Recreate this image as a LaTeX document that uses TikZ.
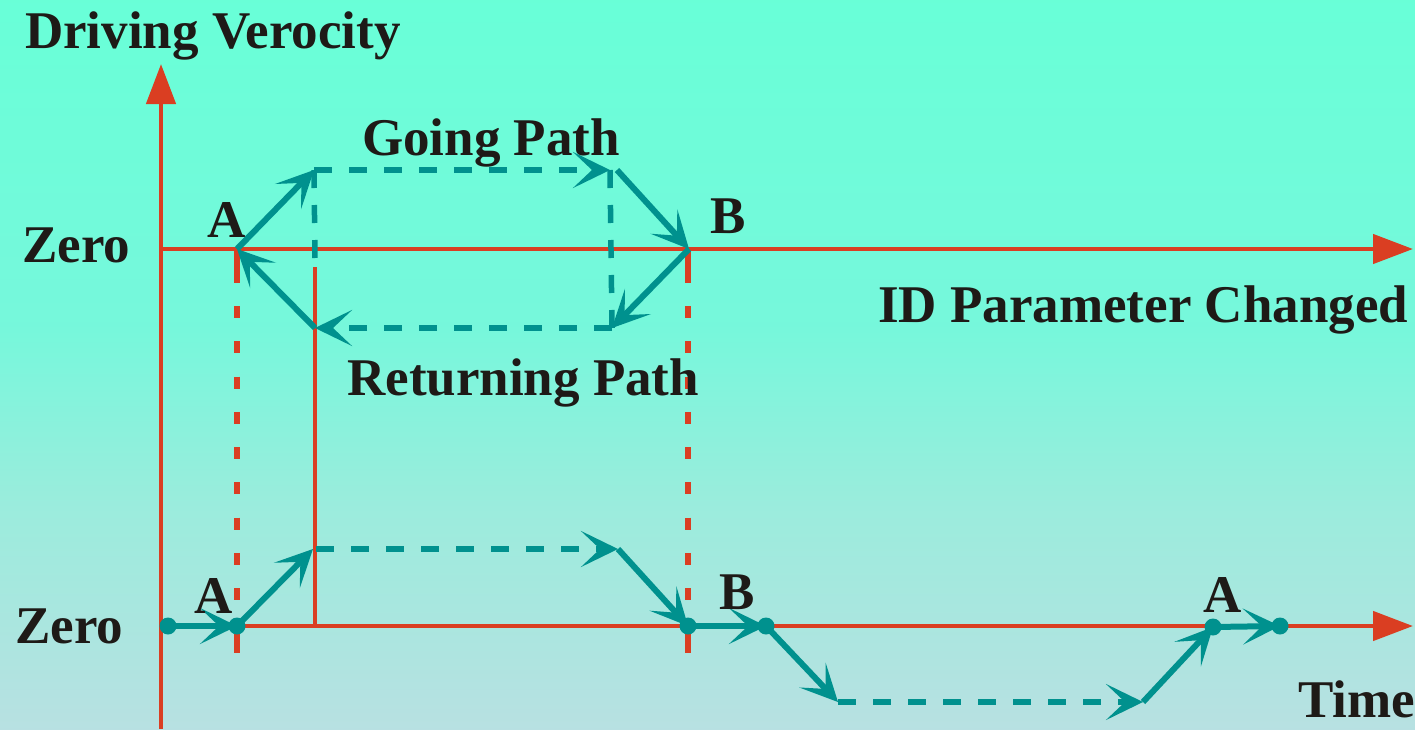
\documentclass[tikz,border=0pt]{standalone}
\usepackage{fontspec}
\setmainfont{Liberation Serif}
\usetikzlibrary{arrows.meta}
\definecolor{axred}{RGB}{218,62,34}
\definecolor{pteal}{RGB}{0,145,142}
\definecolor{txt}{RGB}{30,26,23}
\pgfdeclareverticalshading{bgshade}{100bp}{rgb(0bp)=(0.72,0.88,0.885); rgb(25bp)=(0.72,0.88,0.885); rgb(40bp)=(0.61,0.925,0.865); rgb(52.5bp)=(0.465,0.97,0.86); rgb(75bp)=(0.41,1,0.845); rgb(100bp)=(0.41,1,0.845)}
\begin{document}
\begin{tikzpicture}[x=1pt,y=-1pt,
  axis/.style={draw=axred,line width=4.5pt,-{Triangle[length=40pt,width=29pt]}},
  redline/.style={draw=axred,line width=4.5pt},
  reddash/.style={draw=axred,line width=5.5pt,dash pattern=on 34pt off 23pt on 12pt off 23.25pt on 12pt off 23.25pt on 12pt off 23.25pt on 12pt off 23.25pt on 12pt off 23.25pt on 12pt off 23.25pt on 12pt off 23.25pt on 12pt off 23.25pt on 12pt off 19pt on 40pt off 10pt},
  tarrow/.style={draw=pteal,line width=6pt,-{Stealth[length=37pt,width=36pt,inset=19pt]}},
  tdash/.style={draw=pteal,line width=5.5pt,dash pattern=on 18pt off 17pt},
  tdasharrow/.style={tdash,-{Stealth[length=37pt,width=36pt,inset=19pt]}},
  dot/.style={circle,fill=pteal,inner sep=0pt,minimum size=17pt},
  lab/.style={anchor=base west,inner sep=0pt,text=txt,font=\fontsize{53}{60}\selectfont\bfseries}]
\useasboundingbox (0,0) rectangle (1415,729);
\shade[shading=bgshade] (0,0) rectangle (1415,729);
% coordinates
\coordinate (yb) at (161,729);
\coordinate (yt) at (161,64);
\coordinate (u0) at (161,249);
\coordinate (ue) at (1413,249);
\coordinate (l0) at (161,626);
\coordinate (le) at (1413,626);
\coordinate (uA) at (237,249);
\coordinate (uB) at (689,249);
\coordinate (g1) at (314,170);
\coordinate (g2) at (610,170);
\coordinate (g2b) at (617,170);
\coordinate (r1) at (612,328);
\coordinate (r2) at (315,328);
\coordinate (vA1) at (237,249);
\coordinate (vA2) at (237,653);
\coordinate (vB1) at (688,249);
\coordinate (vB2) at (688,653);
\coordinate (m1) at (315,267);
\coordinate (m2) at (315,626);
\coordinate (md) at (315,261);
\coordinate (s0) at (168,626);
\coordinate (lA) at (237,626);
\coordinate (lg1) at (313,549);
\coordinate (lg1b) at (316,549);
\coordinate (lg2) at (618,549);
\coordinate (lB) at (688,626);
\coordinate (lB2) at (766,626);
\coordinate (ld1) at (838,702);
\coordinate (ld2) at (1143,702);
\coordinate (lA2) at (1213,627);
\coordinate (lE) at (1280,626);
% axes
\draw[axis] (yb) -- (yt);
\draw[axis] (u0) -- (ue);
\draw[axis] (l0) -- (le);
\draw[redline] (m1) -- (m2);
\draw[reddash] (vA1) -- (vA2);
\draw[reddash] (vB1) -- (vB2);
% upper loop
\draw[tdash] (g1) -- (md);
\draw[tdash] (g2) -- (r1);
\draw[tarrow] (uA) -- (g1);
\draw[tdasharrow] (g1) -- (g2);
\draw[tarrow] (g2b) -- (uB);
\draw[tarrow] (uB) -- (r1);
\draw[tdasharrow] (r1) -- (r2);
\draw[tarrow] (r2) -- (uA);
% lower path
\draw[tarrow] (s0) -- (lA);
\draw[tarrow] (lA) -- (lg1);
\draw[tdasharrow] (lg1b) -- (lg2);
\draw[tarrow] (lg2) -- (lB);
\draw[tarrow] (lB) -- (lB2);
\draw[tarrow] (lB2) -- (ld1);
\draw[tdasharrow] (ld1) -- (ld2);
\draw[tarrow] (ld2) -- (lA2);
\draw[tarrow] (lA2) -- (lE);
\node[dot] (d1) at (s0) {};
\node[dot] (d2) at (lA) {};
\node[dot] (d3) at (lB) {};
\node[dot] (d4) at (lB2) {};
\node[dot] (d5) at (lA2) {};
\node[dot] (d6) at (lE) {};
% labels
\node[lab] (t1) at (25,48) {Driving Verocity};
\node[lab] (t2) at (362,155) {Going Path};
\node[lab] (t3) at (22,262) {Zero};
\node[lab] (t4) at (207,237) {A};
\node[lab] (t5) at (710,233) {B};
\node[lab] (t6) at (878,322) {ID Parameter Changed};
\node[lab] (t7) at (347,395) {Returning Path};
\node[lab] (t8) at (15,643) {Zero};
\node[lab] (t9) at (194,613) {A};
\node[lab] (t10) at (719,609) {B};
\node[lab] (t11) at (1203,612) {A};
\node[lab] (t12) at (1298,717) {Time};
\end{tikzpicture}
\end{document}
